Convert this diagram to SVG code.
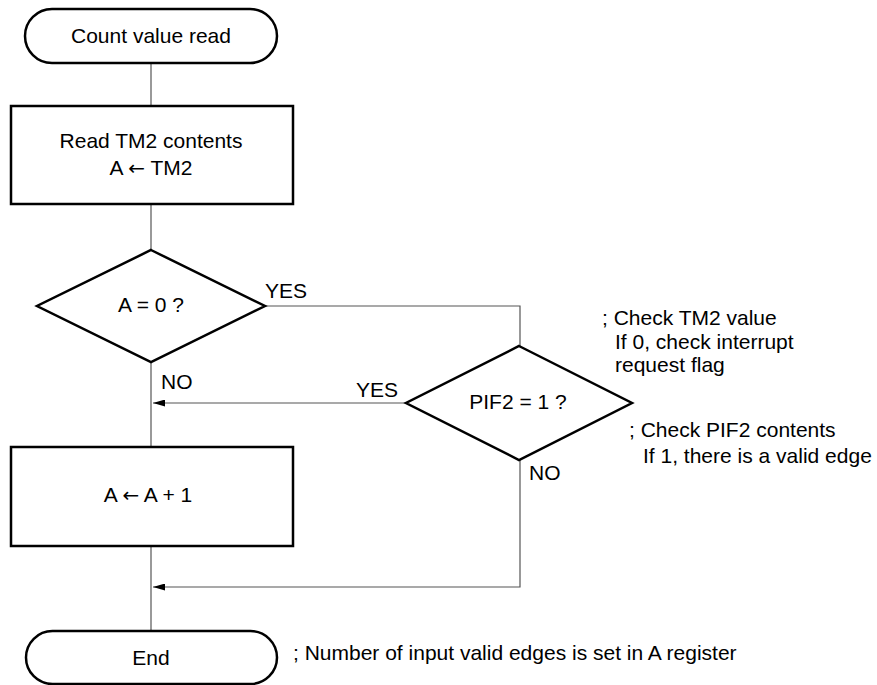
<svg xmlns="http://www.w3.org/2000/svg" width="877" height="685" viewBox="0 0 877 685">
<style>
.shape{fill:#fff;stroke:#000;stroke-width:2.5}
.conn{fill:none;stroke:#555;stroke-width:1.2}
text{font-family:"Liberation Sans",Arial,sans-serif;font-size:21px;fill:#000}
.c{text-anchor:middle}
.ar{font-family:"DejaVu Sans",sans-serif;font-size:20px}
</style>
<defs>
<marker id="arr" markerWidth="13" markerHeight="7" refX="12" refY="3.5" orient="auto" markerUnits="userSpaceOnUse">
<path d="M0,0 L12,3.5 L0,7 Z" fill="#000"/>
</marker>
</defs>
<g id="connectors">
<line class="conn" x1="151" y1="63" x2="151" y2="106"/>
<line class="conn" x1="151" y1="204" x2="151" y2="250"/>
<line class="conn" x1="151" y1="362" x2="151" y2="447"/>
<line class="conn" x1="151" y1="546" x2="151" y2="631"/>
<polyline class="conn" points="265,306 520,306 520,346"/>
<line class="conn" x1="406" y1="403" x2="153" y2="403" marker-end="url(#arr)"/>
<polyline class="conn" points="520,460 520,587 153,587" marker-end="url(#arr)"/>
</g>
<g id="start">
<rect class="shape" x="25" y="9" width="252" height="54" rx="27" ry="27"/>
<text class="c" x="151" y="43">Count value read</text>
</g>
<g id="readTM2">
<rect class="shape" x="11" y="106" width="282" height="98"/>
<text class="c" x="151" y="148">Read TM2 contents</text>
<text class="c" x="151" y="175">A <tspan class="ar">←</tspan> TM2</text>
</g>
<g id="decA">
<polygon class="shape" points="151,250 265,306 151,362 37,306"/>
<text class="c" x="151" y="312">A = 0 ?</text>
</g>
<g id="decPIF">
<polygon class="shape" points="519,346 632,403 519,460 406,403"/>
<text class="c" x="518" y="409">PIF2 = 1 ?</text>
</g>
<g id="inc">
<rect class="shape" x="11" y="447" width="282" height="99"/>
<text class="c" x="148" y="502">A <tspan class="ar">←</tspan> A + 1</text>
</g>
<g id="end">
<rect class="shape" x="26" y="631" width="251" height="53" rx="26.5" ry="26.5"/>
<text class="c" x="151" y="665">End</text>
</g>
<g id="labels">
<text x="265" y="298">YES</text>
<text x="356" y="397">YES</text>
<text x="161" y="389">NO</text>
<text x="529" y="480">NO</text>
<text x="602" y="325">; Check TM2 value</text>
<text x="615" y="349">If 0, check interrupt</text>
<text x="615" y="372">request flag</text>
<text x="629" y="437">; Check PIF2 contents</text>
<text x="643" y="463">If 1, there is a valid edge</text>
<text x="293" y="660">; Number of input valid edges is set in A register</text>
</g>
</svg>
